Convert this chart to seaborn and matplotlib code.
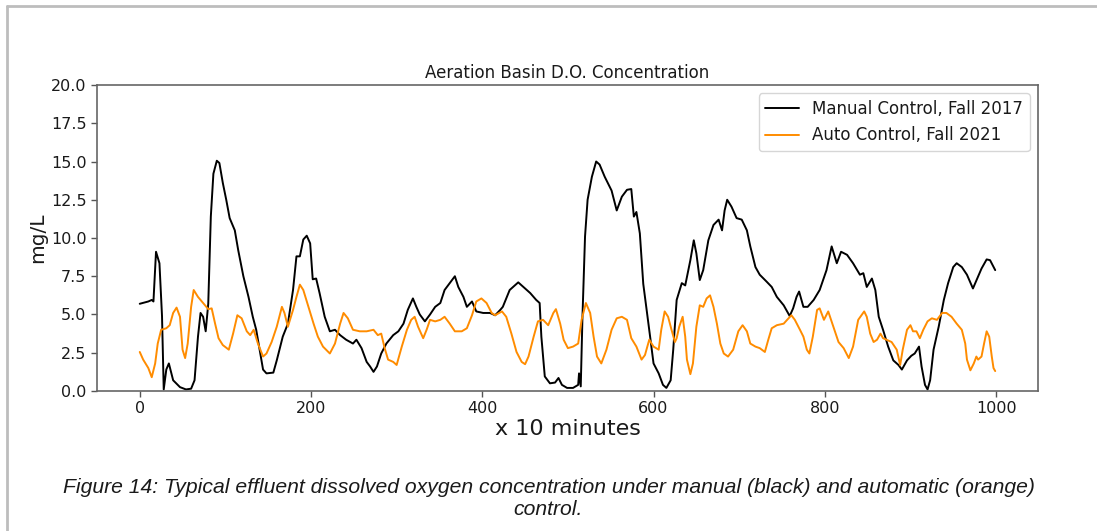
import matplotlib.pyplot as plt
import seaborn as sns
import pandas as pd
from matplotlib.lines import Line2D

# Manual control (Fall 2017): (x, mg/L)
manual_pts = [(0, 5.7), (10, 5.85), (14, 5.95), (16, 5.85), (19, 9.1), (23, 8.35), (26, 4.9),
              (28, 0.1), (31, 1.4), (34, 1.8), (39, 0.7), (47, 0.25), (54, 0.1), (60, 0.15),
              (64, 0.7), (68, 3.55), (71, 5.1), (74, 4.85), (77, 3.9), (80, 5.7), (83, 11.4),
              (86, 14.2), (90, 15.05), (93, 14.9), (97, 13.6), (101, 12.5), (105, 11.3),
              (111, 10.5), (115, 9.2), (121, 7.5), (127, 6.15), (132, 4.85), (136, 4.0),
              (140, 2.7), (144, 1.4), (148, 1.15), (156, 1.2), (160, 2.0), (167, 3.55),
              (173, 4.4), (179, 6.6), (183, 8.8), (187, 8.8), (191, 9.9), (195, 10.15),
              (199, 9.65), (202, 7.3), (206, 7.35), (210, 6.4), (216, 4.85), (222, 3.9),
              (228, 4.0), (234, 3.65), (241, 3.35), (249, 3.1), (253, 3.35), (259, 2.8),
              (265, 1.9), (269, 1.6), (273, 1.25), (277, 1.6), (282, 2.45), (288, 3.1),
              (296, 3.65), (302, 3.9), (308, 4.4), (313, 5.3), (319, 6.05), (323, 5.5),
              (327, 5.0), (333, 4.55), (339, 5.0), (345, 5.5), (351, 5.75), (356, 6.6),
              (362, 7.05), (368, 7.5), (372, 6.8), (378, 6.15), (382, 5.5), (388, 5.85),
              (393, 5.2), (401, 5.1), (409, 5.1), (415, 4.95), (421, 5.3), (424, 5.5),
              (432, 6.6), (442, 7.1), (448, 6.8), (456, 6.4), (463, 5.95), (467, 5.75),
              (469, 3.55), (473, 0.95), (479, 0.5), (485, 0.55), (489, 0.85), (493, 0.4),
              (499, 0.2), (506, 0.2), (512, 0.4), (513, 1.15), (515, 0.3), (517, 4.85),
              (520, 10.1), (523, 12.5), (528, 14.0), (533, 15.0), (537, 14.8), (543, 14.0),
              (551, 13.1), (557, 11.8), (563, 12.7), (569, 13.15), (574, 13.2), (577, 11.4),
              (580, 11.7), (584, 10.3), (588, 7.0), (592, 5.3), (596, 3.55), (600, 1.8),
              (606, 1.15), (611, 0.4), (615, 0.2), (620, 0.7), (623, 2.7), (627, 5.95),
              (633, 7.05), (637, 6.9), (643, 8.55), (647, 9.85), (650, 9.0), (654, 7.25),
              (658, 7.9), (664, 9.85), (670, 10.85), (676, 11.2), (680, 10.5), (683, 11.8),
              (686, 12.5), (691, 12.05), (697, 11.3), (703, 11.2), (709, 10.5), (713, 9.45),
              (719, 8.1), (724, 7.6), (732, 7.15), (738, 6.8), (744, 6.15), (752, 5.6),
              (759, 4.9), (763, 5.4), (767, 6.15), (770, 6.5), (775, 5.5), (780, 5.5),
              (787, 5.95), (794, 6.6), (802, 7.9), (808, 9.45), (814, 8.35), (819, 9.1),
              (826, 8.9), (833, 8.35), (841, 7.6), (845, 7.7), (849, 6.8), (855, 7.35),
              (859, 6.6), (863, 4.85), (868, 4.0), (874, 2.9), (880, 2.0), (886, 1.7),
              (890, 1.4), (896, 2.0), (901, 2.3), (905, 2.45), (910, 2.9), (913, 1.6),
              (917, 0.4), (920, 0.1), (923, 0.7), (927, 2.7), (933, 4.2), (939, 5.95),
              (944, 7.05), (950, 8.1), (954, 8.35), (960, 8.1), (966, 7.6), (973, 6.7),
              (978, 7.35), (983, 8.0), (989, 8.6), (993, 8.55), (999, 7.9)]

# Auto control (Fall 2021): (x, mg/L)
auto_pts = [(0, 2.55), (4, 2.05), (10, 1.5), (14, 0.9), (18, 1.8), (21, 3.1), (25, 4.0),
            (31, 4.1), (35, 4.3), (39, 5.1), (43, 5.45), (47, 4.85), (50, 2.7), (53, 2.15),
            (56, 3.1), (60, 5.5), (63, 6.6), (68, 6.15), (74, 5.75), (80, 5.35), (84, 5.4),
            (88, 4.4), (92, 3.45), (97, 3.0), (104, 2.7), (109, 3.75), (114, 4.95),
            (119, 4.75), (125, 3.9), (129, 3.65), (133, 4.0), (138, 3.1), (144, 2.25),
            (148, 2.45), (154, 3.2), (160, 4.2), (166, 5.5), (169, 5.1), (173, 4.2),
            (179, 5.3), (183, 6.15), (187, 6.95), (191, 6.6), (197, 5.5), (203, 4.4),
            (208, 3.55), (214, 2.9), (222, 2.45), (228, 3.1), (234, 4.4), (238, 5.1),
            (243, 4.75), (249, 4.0), (257, 3.9), (265, 3.9), (273, 4.0), (278, 3.65),
            (282, 3.75), (286, 2.8), (290, 2.05), (296, 1.9), (300, 1.7), (306, 2.9),
            (312, 4.0), (317, 4.65), (321, 4.85), (325, 4.2), (331, 3.45), (335, 4.0),
            (339, 4.65), (345, 4.55), (351, 4.65), (356, 4.85), (362, 4.4), (368, 3.9),
            (376, 3.9), (382, 4.1), (388, 4.95), (393, 5.85), (399, 6.05), (405, 5.75),
            (411, 5.1), (415, 4.95), (423, 5.2), (428, 4.85), (434, 3.75), (440, 2.55),
            (446, 1.9), (450, 1.75), (454, 2.25), (460, 3.55), (465, 4.55), (471, 4.65),
            (477, 4.3), (483, 5.1), (486, 5.35), (491, 4.4), (495, 3.35), (500, 2.8),
            (506, 2.9), (512, 3.1), (516, 4.65), (521, 5.75), (526, 5.1), (530, 3.55),
            (534, 2.25), (539, 1.8), (545, 2.7), (551, 4.0), (557, 4.75), (563, 4.85),
            (569, 4.65), (574, 3.45), (580, 2.9), (586, 2.05), (590, 2.35), (595, 3.35),
            (600, 2.9), (606, 2.7), (609, 4.0), (613, 5.2), (617, 4.85), (621, 4.0),
            (625, 3.2), (627, 3.45), (630, 4.2), (634, 4.85), (637, 3.55), (639, 2.05),
            (643, 1.1), (646, 1.8), (650, 4.2), (654, 5.6), (658, 5.5), (662, 6.05),
            (666, 6.25), (670, 5.5), (674, 4.4), (678, 3.1), (682, 2.45), (687, 2.25),
            (693, 2.7), (699, 3.9), (704, 4.3), (709, 3.9), (713, 3.1), (719, 2.9),
            (724, 2.8), (730, 2.55), (734, 3.35), (738, 4.1), (744, 4.3), (752, 4.4),
            (756, 4.65), (761, 4.95), (765, 4.65), (771, 4.0), (775, 3.55), (779, 2.7),
            (782, 2.45), (786, 3.55), (791, 5.3), (794, 5.4), (799, 4.65), (804, 5.2),
            (810, 4.2), (816, 3.2), (822, 2.8), (828, 2.15), (833, 2.9), (839, 4.65),
            (846, 5.2), (849, 4.85), (853, 3.75), (857, 3.2), (861, 3.35), (865, 3.75),
            (868, 3.45), (874, 3.3), (878, 3.2), (884, 2.7), (888, 1.7), (891, 2.7),
            (896, 4.0), (900, 4.3), (903, 3.9), (907, 3.9), (911, 3.45), (915, 4.0),
            (920, 4.55), (925, 4.75), (931, 4.65), (937, 5.1), (942, 5.1), (948, 4.85),
            (954, 4.4), (960, 4.0), (964, 3.1), (966, 2.05), (970, 1.35), (974, 1.8),
            (977, 2.25), (979, 2.05), (983, 2.25), (986, 3.1), (989, 3.9), (992, 3.55),
            (995, 2.25), (997, 1.5), (999, 1.3)]

labels = ['Manual Control, Fall 2017', 'Auto Control, Fall 2021']
titulo = 'Aeration Basin D.O. Concentration'
legenda = ('Figure 14: Typical effluent dissolved oxygen concentration under manual (black) '
           'and automatic (orange)\ncontrol.')

manual = pd.DataFrame(manual_pts, columns=['x', 'y'])
auto = pd.DataFrame(auto_pts, columns=['x', 'y'])

sns.set_style('ticks')
plt.rcParams['font.family'] = ['DejaVu Sans']
plt.rcParams['text.color'] = '#1a1a1a'
plt.rcParams['axes.labelcolor'] = '#1a1a1a'
plt.rcParams['xtick.labelcolor'] = '#1a1a1a'
plt.rcParams['ytick.labelcolor'] = '#1a1a1a'

fig = plt.figure(figsize=(10.97, 5.31), dpi=100)
ax = fig.add_axes([0.0884, 0.2637, 0.8578, 0.5762])

sns.lineplot(data=manual, x='x', y='y', ax=ax, color='black', linewidth=1.4, label=labels[0])
sns.lineplot(data=auto, x='x', y='y', ax=ax, color='#ff8c00', linewidth=1.4, label=labels[1])

ax.set_xlim(-49.95, 1048.95)
ax.set_ylim(0, 20)
ax.set_xticks([0, 200, 400, 600, 800, 1000])
ax.set_yticks([0, 2.5, 5, 7.5, 10, 12.5, 15, 17.5, 20])
ax.set_yticklabels(['0.0', '2.5', '5.0', '7.5', '10.0', '12.5', '15.0', '17.5', '20.0'])
ax.tick_params(labelsize=11.5, length=4, width=1, color='#555555')

for s in ax.spines.values():
    s.set_color('#666666')
    s.set_linewidth(1.2)

ax.set_title(titulo, fontsize=12, pad=5)
ax.set_xlabel('x 10 minutes', fontsize=16, labelpad=2)
ax.set_ylabel('mg/L', fontsize=14.5, labelpad=3)

leg = ax.legend(loc='upper right', fontsize=12, frameon=True, fancybox=True,
                borderpad=0.4, handlelength=2.0)
leg.get_frame().set_edgecolor('#cccccc')

# Legenda da figura (texto abaixo do gráfico).
fig.text(0.5, 0.061, legenda, ha='center', va='center', fontsize=15.2,
         style='italic', family=['Liberation Sans', 'DejaVu Sans'], linespacing=1.2)

# Moldura cinza clara (topo e esquerda).
fig.add_artist(Line2D([7 / 1097, 1.0], [1 - 6 / 531, 1 - 6 / 531], transform=fig.transFigure,
                      color='#bdbdbd', linewidth=2))
fig.add_artist(Line2D([7 / 1097, 7 / 1097], [0, 1 - 6 / 531], transform=fig.transFigure,
                      color='#bdbdbd', linewidth=2))

plt.savefig('out.png', dpi=100)
